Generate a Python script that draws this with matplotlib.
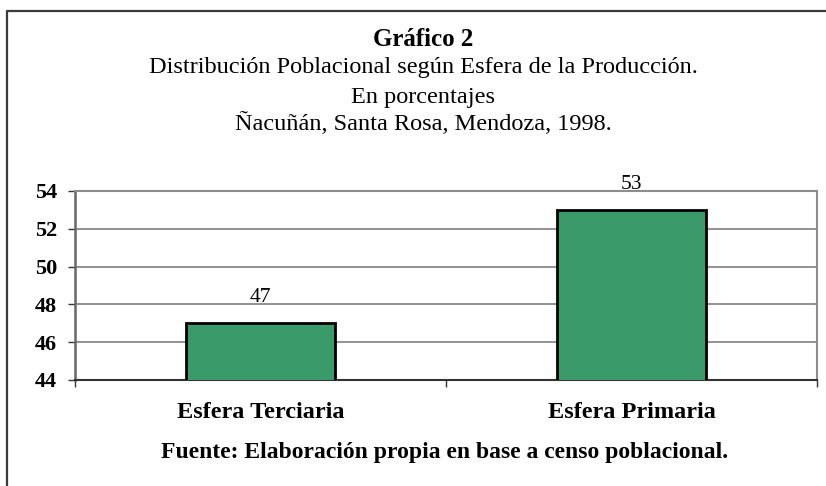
import matplotlib.pyplot as plt
from matplotlib.lines import Line2D

categorias = ['Esfera Terciaria', 'Esfera Primaria']
valores = [47, 53]
y_ticks = [44, 46, 48, 50, 52, 54]

plt.rcParams['font.family'] = ['Liberation Serif', 'DejaVu Serif']

fig = plt.figure(figsize=(8.26, 4.86), dpi=100)
W, H = 826, 486

# marco exterior (cortado a la derecha y abajo)
fig.add_artist(Line2D([7 / W, 7 / W, 1.0], [0.0, 1 - 11 / H, 1 - 11 / H],
                      transform=fig.transFigure, color='#3a3a3a', lw=1.6))

ax = fig.add_axes([75 / W, (H - 380) / H, (817 - 75) / W, (380 - 191) / H])

x = list(range(len(categorias)))
ax.bar(x, valores, width=0.4, bottom=0, color='#3a9a6a',
       edgecolor='black', linewidth=2, zorder=3)

for xi, v in zip(x, valores):
    ax.text(xi, v + 1.35, str(v), ha='center', va='center', fontsize=15.5,
            color='black', zorder=4, clip_on=False)

ax.set_xlim(-0.5, len(categorias) - 0.5)
ax.set_ylim(44, 54)
ax.set_yticks(y_ticks)
ax.set_yticklabels([str(t) for t in y_ticks], fontsize=16, fontweight='bold')
ax.set_xticks([-0.5, 0.5, 1.5])
ax.set_xticklabels([])
ax.tick_params(axis='x', direction='out', length=5, width=1, color='#333333')
ax.tick_params(axis='y', direction='out', length=5, width=1, color='#333333', pad=8)

ax.yaxis.grid(True, color='#7f7f7f', linewidth=1.2, zorder=1)
ax.set_axisbelow(True)
for lado in ['top', 'right']:
    ax.spines[lado].set_color('#8c8c8c')
    ax.spines[lado].set_linewidth(1.5)
ax.spines['left'].set_color('#666666')
ax.spines['left'].set_linewidth(1.8)
ax.spines['bottom'].set_color('#333333')
ax.spines['bottom'].set_linewidth(1.5)

for xi, c in zip(x, categorias):
    ax.text(xi, -0.17, c, transform=ax.get_xaxis_transform(), ha='center', va='center',
            fontsize=17.5, fontweight='bold')

fig.text(445 / W, 1 - 452 / H, 'Fuente: Elaboración propia en base a censo poblacional.',
         ha='center', va='center', fontsize=17, fontweight='bold')

fig.text(423 / W, 1 - 40 / H, 'Gráfico 2', ha='center', va='center',
         fontsize=18, fontweight='bold')
fig.text(423 / W, 1 - 68 / H, 'Distribución Poblacional según Esfera de la Producción.',
         ha='center', va='center', fontsize=17.5)
fig.text(423 / W, 1 - 97 / H, 'En porcentajes', ha='center', va='center', fontsize=17.5)
fig.text(423 / W, 1 - 124 / H, 'Ñacuñán, Santa Rosa, Mendoza, 1998.',
         ha='center', va='center', fontsize=17.5)

fig.savefig('out.png', dpi=100)
